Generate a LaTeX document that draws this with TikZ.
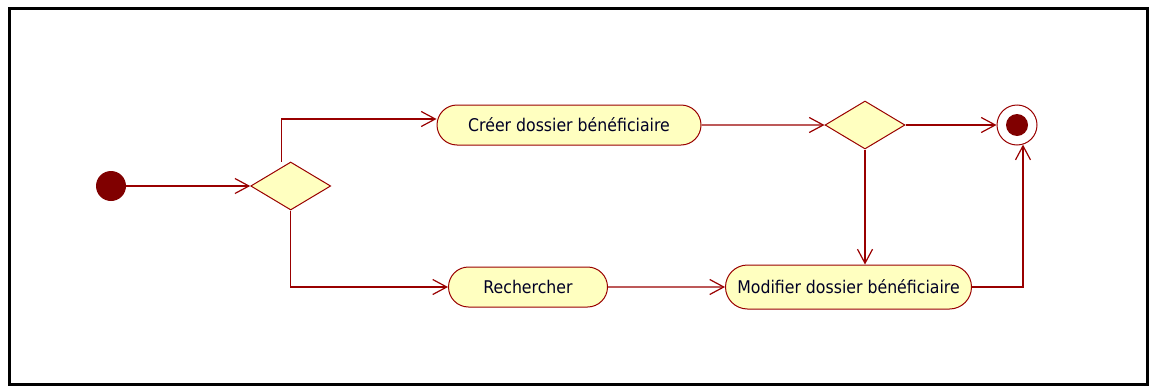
\documentclass[tikz,border=0pt]{standalone}
\usepackage{fontspec}
\setmainfont{DejaVu Sans Condensed}
\usetikzlibrary{arrows.meta,positioning,shapes.geometric,shapes.misc}
\definecolor{linered}{RGB}{153,0,0}
\definecolor{actfill}{RGB}{255,255,192}
\definecolor{dotred}{RGB}{128,0,0}

\begin{document}
\begin{tikzpicture}[
  x=1pt, y=-1pt,
  font=\fontsize{17.5}{21}\selectfont,
  act/.style={rounded rectangle,draw=linered,fill=actfill,line width=1pt,minimum height=40pt,inner sep=2pt,text=black!85!blue},
  decision/.style={diamond,draw=linered,fill=actfill,line width=1pt,minimum width=80pt,minimum height=48pt,aspect=1.6,inner sep=0pt},
  initial/.style={circle,fill=dotred,minimum size=30pt,inner sep=0pt},
  final/.style={circle,draw=linered,fill=white,line width=1pt,minimum size=40pt,inner sep=0pt,
    path picture={\fill[dotred] (path picture bounding box.center) circle[radius=11pt];}},
  arrow/.style={-{Straight Barb[length=14pt,width=15pt,line width=1.2pt]},draw=linered,line width=1.3pt}
]
\useasboundingbox (0,0) rectangle (1155,388);
\draw[line width=3pt] (9,8) rectangle (1147,384);

\node[initial] (start) at (111,186) {};
\node[decision, right=124pt of start] (choix) {};
\node[act, minimum width=268pt] (creer) at (569,125) {Créer dossier bénéficiaire};
\node[decision, right=123pt of creer] (fusion) {};
\node[final, right=91pt of fusion] (fin) {};
\node[act, minimum width=163pt] (rech) at (528,287) {Rechercher};
\node[act, minimum width=250pt, minimum height=44pt, right=117pt of rech] (modif) {Modifier dossier bénéficiaire};

\draw[arrow] (start) -- (choix);
\draw[arrow] ([xshift=-9pt]choix.north) |- ([yshift=6pt]creer.west);
\draw[arrow] (choix.south) |- (rech.west);
\draw[arrow] (creer) -- (fusion);
\draw[arrow] (fusion) -- (fin);
\draw[arrow] (fusion.south) -- (fusion.south |- modif.north);
\draw[arrow] (rech) -- (modif);
\draw[arrow] (modif.east) -| (fin.-73);
\end{tikzpicture}
\end{document}
